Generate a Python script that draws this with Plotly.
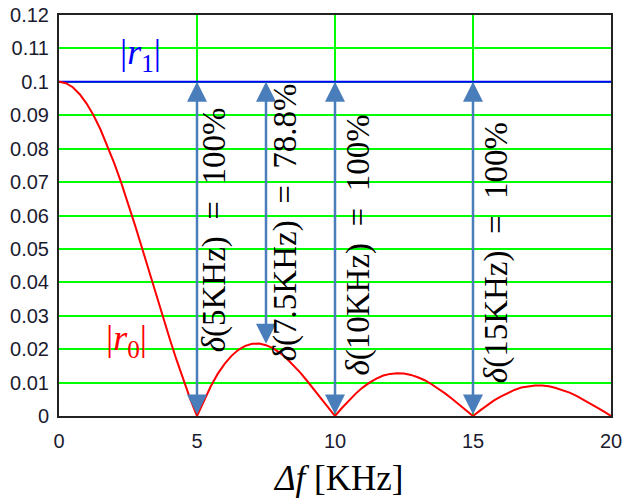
import plotly.graph_objects as go

# ---- data ----
freq = [0, 0.25, 0.5, 0.75, 1, 1.25, 1.5, 1.75, 2, 2.25, 2.5, 2.75, 3, 3.25, 3.5, 3.75,
        4, 4.25, 4.5, 4.75, 5, 5.25, 5.5, 5.75, 6, 6.25, 6.5, 6.75, 7, 7.25, 7.5, 7.75,
        8, 8.25, 8.5, 8.75, 9, 9.25, 9.5, 9.75, 10, 10.25, 10.5, 10.75, 11, 11.25, 11.5,
        11.75, 12, 12.25, 12.5, 12.75, 13, 13.25, 13.5, 13.75, 14, 14.25, 14.5, 14.75,
        15, 15.25, 15.5, 15.75, 16, 16.25, 16.5, 16.75, 17, 17.25, 17.5, 17.75, 18,
        18.25, 18.5, 18.75, 19, 19.25, 19.5, 19.75, 20]
r0 = [0.1, 0.0996, 0.0984, 0.0963, 0.0935, 0.0900, 0.0858, 0.0810, 0.0757, 0.0699,
      0.0637, 0.0572, 0.0505, 0.0436, 0.0368, 0.0300, 0.0234, 0.0170, 0.0109, 0.0052,
      0.0, 0.0047, 0.0089, 0.0126, 0.0156, 0.0180, 0.0198, 0.0210, 0.0216, 0.0217,
      0.0212, 0.0203, 0.0189, 0.0172, 0.0151, 0.0129, 0.0104, 0.0078, 0.0052, 0.0026,
      0.0, 0.0024, 0.0047, 0.0067, 0.0085, 0.0100, 0.0112, 0.0121, 0.0126, 0.0128,
      0.0127, 0.0123, 0.0116, 0.0107, 0.0095, 0.0082, 0.0067, 0.0051, 0.0034, 0.0017,
      0.0, 0.0016, 0.0032, 0.0046, 0.0058, 0.0069, 0.0078, 0.0085, 0.0089, 0.0091,
      0.0091, 0.0089, 0.0084, 0.0078, 0.0070, 0.0060, 0.0049, 0.0038, 0.0025, 0.0013,
      0.0]
r1_x = [0, 20]
r1_y = [0.1, 0.1]

arrow_f = [5, 7.5, 10, 15]
arrow_top = [0.1, 0.1, 0.1, 0.1]
arrow_low = [0.0, 0.0212, 0.0, 0.0]
delta_labels = ["<i>δ</i>(5KHz)  =  100%", "<i>δ</i>(7.5KHz)  =  78.8%",
                "<i>δ</i>(10KHz)  =  100%", "<i>δ</i>(15KHz)  =  100%"]
label_x = [5.62, 8.19, 10.87, 15.83]
label_y = [0.0556, 0.058, 0.051, 0.049]

x_ticks = [0, 5, 10, 15, 20]
y_ticks = [0, 0.01, 0.02, 0.03, 0.04, 0.05, 0.06, 0.07, 0.08, 0.09, 0.1, 0.11, 0.12]
y_tick_text = ["0", "0.01", "0.02", "0.03", "0.04", "0.05", "0.06", "0.07", "0.08",
               "0.09", "0.1", "0.11", "0.12"]

fig = go.Figure()
fig.add_trace(go.Scatter(x=r1_x, y=r1_y, mode="lines",
                         line=dict(color="#0000ff", width=2), hoverinfo="skip"))
fig.add_trace(go.Scatter(x=freq, y=r0, mode="lines",
                         line=dict(color="#ff0000", width=2), hoverinfo="skip"))

arrow_color = "#4a7ebb"
for f, top, low in zip(arrow_f, arrow_top, arrow_low):
    fig.add_annotation(x=f, y=top, ax=f, ay=low, xref="x", yref="y",
                       axref="x", ayref="y", text="", showarrow=True,
                       arrowhead=2, arrowsize=1.6, arrowwidth=2.5,
                       arrowside="end+start", startarrowhead=2, startarrowsize=1.6,
                       arrowcolor=arrow_color)

for lx, ly, txt in zip(label_x, label_y, delta_labels):
    fig.add_annotation(x=lx, y=ly, xref="x", yref="y", text=txt, showarrow=False,
                       textangle=-90, xanchor="center", yanchor="middle",
                       font=dict(family="Liberation Serif", size=33, color="#000000"))

fig.add_annotation(x=(140 - 59) / 27.6, y=(416 - 55) / 3340, xref="x", yref="y",
                   text="|<i>r</i><sub>1</sub>|", showarrow=False,
                   font=dict(family="Liberation Serif", size=36, color="#0000ff"))
fig.add_annotation(x=(126 - 59) / 27.6, y=(416 - 341) / 3340, xref="x", yref="y",
                   text="|<i>r</i><sub>0</sub>|", showarrow=False,
                   font=dict(family="Liberation Serif", size=36, color="#ff0000"))

fig.add_annotation(x=0.505, y=-0.155, xref="paper", yref="paper",
                   text="<i>Δf</i> [KHz]", showarrow=False,
                   xanchor="center", yanchor="middle",
                   font=dict(family="Liberation Serif", size=35, color="#000000"))

fig.update_layout(
    width=630, height=502,
    margin=dict(l=59, r=19, t=15, b=86, autoexpand=False),
    paper_bgcolor="white", plot_bgcolor="white",
    showlegend=False,
    xaxis=dict(range=[0, 20], tickvals=x_ticks, showgrid=True, gridcolor="#00ff00",
               gridwidth=2, zeroline=False, showline=True, linecolor="#222222",
               linewidth=2, mirror=True, ticks="", automargin=False,
               ticklabelstandoff=6,
               tickfont=dict(family="Liberation Sans", size=20, color="#1b1b2f")),
    yaxis=dict(range=[0, 0.12], tickvals=y_ticks, ticktext=y_tick_text, showgrid=True,
               gridcolor="#00ff00", gridwidth=2, zeroline=False, showline=True,
               linecolor="#222222", linewidth=2, mirror=True, ticks="",
               automargin=False, ticklabelstandoff=4,
               tickfont=dict(family="Liberation Sans", size=20, color="#1b1b2f")),
)

fig.write_html("out.html")
